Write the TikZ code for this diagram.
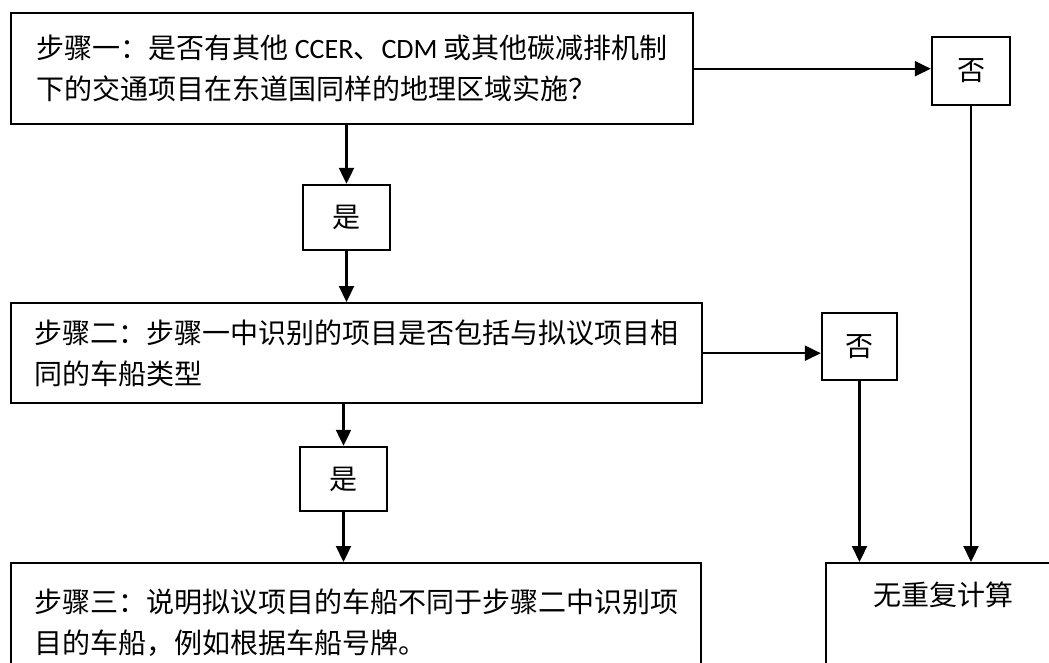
\documentclass[tikz,border=0pt]{standalone}
\usepackage{fontspec}
\setmainfont{Noto Sans CJK SC}
\newfontfamily\lat{Carlito}
\usetikzlibrary{arrows.meta}
\begin{document}
\begin{tikzpicture}[x=1pt,y=-1pt,
  box/.style={draw, line width=2.4pt, inner sep=0pt, anchor=north west, align=left, font=\fontsize{28}{41}\selectfont},
  small/.style={draw, line width=2.4pt, inner sep=0pt, font=\fontsize{28}{34}\selectfont},
  arr/.style={line width=2.2pt, -{Triangle[length=16pt,width=15pt]}}]
\useasboundingbox (0,0) rectangle (1049,662);
\clip (0,0) rectangle (1049,662);
\node[box, minimum width=682pt, minimum height=111pt] (b1) at (10,12)
  {步骤一：是否有其他 {\lat CCER}、{\lat CDM} 或其他碳减排机制\\下的交通项目在东道国同样的地理区域实施？};
\node[box, minimum width=691pt, minimum height=100pt] (b2) at (10,302)
  {步骤二：步骤一中识别的项目是否包括与拟议项目相\\同的车船类型};
\node[box, minimum width=690pt, minimum height=118pt] (b3) at (10,562)
  {步骤三：说明拟议项目的车船不同于步骤二中识别项\\目的车船，例如根据车船号牌。};
\node[small, minimum width=87pt, minimum height=65pt] (y1) at (346.5,217.5) {是};
\node[small, minimum width=87pt, minimum height=64pt] (y2) at (343.5,479) {是};
\node[small, minimum width=78pt, minimum height=68pt] (n1) at (971,71) {否};
\node[small, minimum width=75pt, minimum height=67pt] (n2) at (859.5,346.5) {否};
\node[draw, line width=2.4pt, anchor=north west, minimum width=234pt, minimum height=140pt,
  label={[font=\fontsize{28}{34}\selectfont, anchor=center, yshift=-33pt]north:无重复计算}] (r) at (825,562) {};
\draw[arr] (b1.east) -- (b1.east -| n1.west);
\draw[arr] (y1.north |- b1.south) -- (y1.north);
\draw[arr] (y1.south) -- (y1.south |- b2.north);
\draw[arr] (b2.east) -- (b2.east -| n2.west);
\draw[arr] (y2.north |- b2.south) -- (y2.north);
\draw[arr] (y2.south) -- (y2.south |- b3.north);
\draw[arr] (n1.south) -- (n1.south |- r.north);
\draw[arr] (n2.south) -- (n2.south |- r.north);
\end{tikzpicture}
\end{document}
